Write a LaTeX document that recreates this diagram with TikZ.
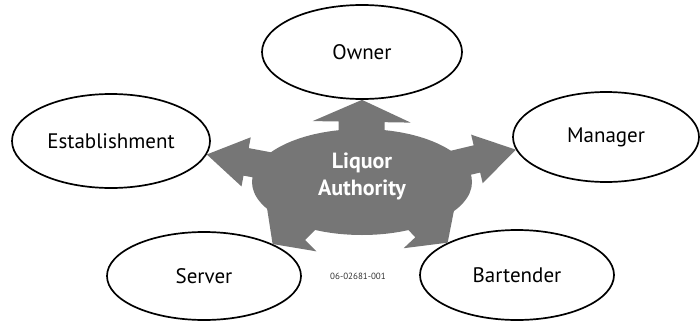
\documentclass[tikz,border=0pt]{standalone}
\usepackage{fontspec}
\setmainfont{PT Sans}
\usetikzlibrary{shapes.geometric,calc}
\definecolor{halftone}{RGB}{118,118,118}
\tikzset{
  oval/.style={ellipse, draw=black, line width=1.7pt, inner sep=0pt,
    font=\fontsize{21}{24}\selectfont},
  blobfill/.style={fill=halftone, draw=none},
}
% #1 base, #2 tip, #3 shaft half-width, #4 head half-width, #5 head length, #6 id
\newcommand\fatarrow[6]{%
  \coordinate (H#6) at ($(#2)!#5!(#1)$);
  \fill[blobfill] ($(#1)!#3!90:(#2)$) -- ($(H#6)!#3!90:(#2)$) -- ($(H#6)!#4!90:(#2)$)
    -- (#2) -- ($(H#6)!#4!-90:(#2)$) -- ($(H#6)!#3!-90:(#2)$) -- ($(#1)!#3!-90:(#2)$) -- cycle;
}
\begin{document}
\begin{tikzpicture}[x=1pt,y=-1pt]
\useasboundingbox (0,0) rectangle (700,321);
% outer ovals
\node[oval, minimum width=200pt, minimum height=94pt] (owner) at (362,52) {Owner};
\node[oval, minimum width=198pt, minimum height=94pt] (estab) at (111,141) {Establishment};
\node[oval, minimum width=186pt, minimum height=90pt] (manager) at (606,137) {Manager};
\node[oval, minimum width=194pt, minimum height=88pt] (server) at (204,276) {Server};
\node[oval, minimum width=194pt, minimum height=90pt] (bartender) at (517,275) {Bartender};
% central blob
\fill[blobfill] (362,182) ellipse [x radius=110, y radius=53];
\coordinate (cu) at (361,165);
\coordinate (cl) at (300,172);
\coordinate (cr) at (422,172);
\coordinate (cbl) at (305,212);
\coordinate (cbr) at (419,212);
\fatarrow{cu}{owner.south}{23pt}{49pt}{22pt}{u}
\fatarrow{cl}{estab.-8}{14pt}{25pt}{40pt}{l}
\fatarrow{cr}{manager.188}{14pt}{25pt}{40pt}{r}
\fatarrow{cbl}{server.25}{20pt}{36pt}{26pt}{bl}
\fatarrow{cbr}{bartender.155}{20pt}{36pt}{26pt}{br}
\node[font=\bfseries\fontsize{22}{27}\selectfont, text=white, align=center]
  (auth) at (362,176) {Liquor\\Authority};
\node[font=\fontsize{9}{10}\selectfont, text=black!80] (code) at (358,276) {06-02681-001};
\end{tikzpicture}
\end{document}
